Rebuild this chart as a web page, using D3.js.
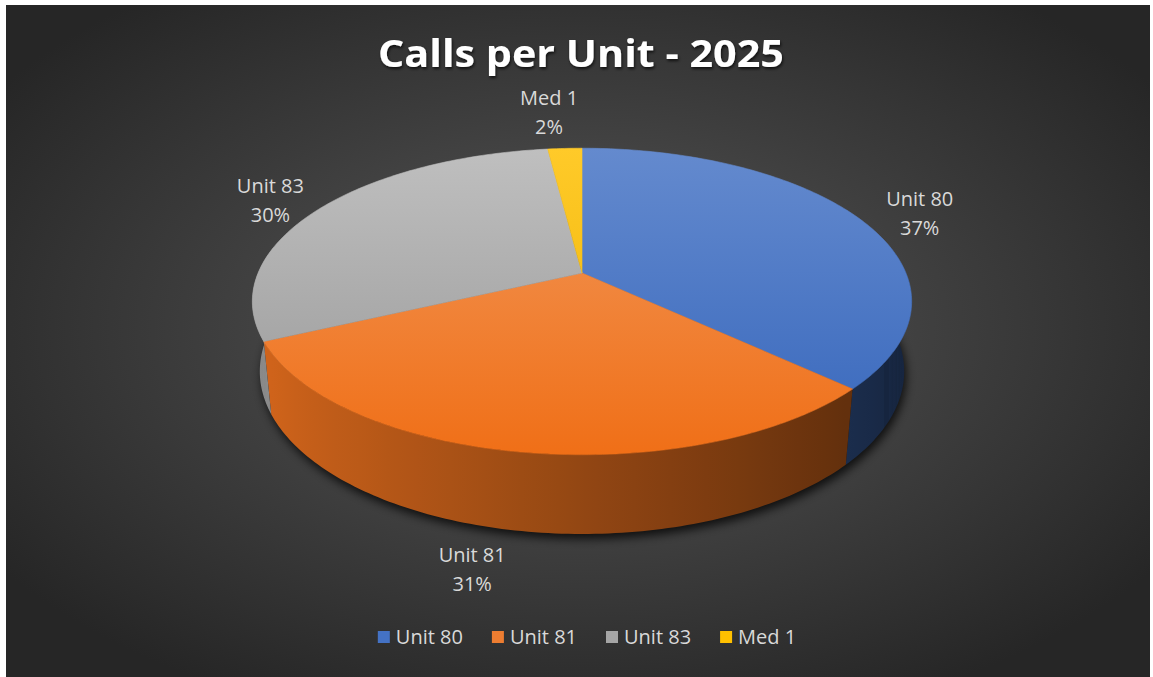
<!DOCTYPE html>
<html>
<head>
<meta charset="utf-8">
<script src="https://cdn.jsdelivr.net/npm/d3@7"></script>
<style>
  html, body { margin: 0; padding: 0; background: #fff; }
  svg { display: block; }
</style>
</head>
<body>
<svg width="1153" height="677"></svg>
<script>
// data
var categories = ["Unit 80", "Unit 81", "Unit 83", "Med 1"];
var values = [37, 31, 30, 2];
var colors = ["#4472C4", "#ED7D31", "#A5A5A5", "#FFC000"];
var title = "Calls per Unit - 2025";

// label nudges (px) to mimic Excel's best-fit placement
var labelNudge = [[10, 5], [-34, -10], [-4, 4], [-13, -16]];

var svg = d3.select("svg"),
    W = +svg.attr("width"),
    H = +svg.attr("height"),
    defs = svg.append("defs");

// perspective setup for the 3D pie
var cx = 582, cy = 273,
    fx = 1558, fy = 1585, D = 4.81,
    phi = Math.asin(0.449),
    thick = 0.239,
    sinP = Math.sin(phi), cosP = Math.cos(phi);

function proj(theta, rho, yw) {
    var x = rho * Math.sin(theta), z = rho * Math.cos(theta);
    var yc = yw * cosP + z * sinP;
    var depth = D + z * cosP - yw * sinP;
    return [cx + fx * x / depth, cy - fy * yc / depth];
}

// background
var bg = defs.append("radialGradient").attr("id", "bg")
    .attr("cx", "50%").attr("cy", "48%").attr("r", "62%");
bg.append("stop").attr("offset", "0%").attr("stop-color", "#585858");
bg.append("stop").attr("offset", "100%").attr("stop-color", "#262626");

svg.append("rect")
    .attr("x", 6).attr("y", 5)
    .attr("width", W - 9).attr("height", H - 5)
    .attr("fill", "url(#bg)");

var pie = d3.pie().sort(null).value(function(d) { return d; });
var arcs = pie(values);
var total = d3.sum(values);

function arcPoints(a0, a1, rho, yw) {
    var n = Math.max(2, Math.ceil(Math.abs(a1 - a0) / (Math.PI / 180)));
    return d3.range(n + 1).map(function(i) {
        return proj(a0 + (a1 - a0) * i / n, rho, yw);
    });
}

// shadow under the pie
var blur = defs.append("filter").attr("id", "blur")
    .attr("x", "-10%").attr("y", "-10%").attr("width", "120%").attr("height", "130%");
blur.append("feGaussianBlur").attr("stdDeviation", 5);

svg.append("path")
    .attr("d", d3.line()(arcPoints(0, 2 * Math.PI, 1.0, -thick)) + "Z")
    .attr("transform", "translate(2,5)")
    .attr("fill", "#000")
    .attr("opacity", 0.75)
    .attr("filter", "url(#blur)");

// side walls
var gWall = svg.append("g");
var vis0 = 80 * Math.PI / 180, vis1 = 280 * Math.PI / 180;

function shade(base, theta) {
    var k = 0.58 - 0.26 * Math.sin(theta);
    var c = d3.hsl(base);
    c.l = c.l * k;
    c.s = c.s * 0.92;
    return c.rgb();
}

arcs.forEach(function(a, i) {
    var a0 = Math.max(a.startAngle, vis0), a1 = Math.min(a.endAngle, vis1);
    if (a1 <= a0) return;
    var top = arcPoints(a0, a1, 1, 0),
        bot = arcPoints(a0, a1, 1, -thick).reverse();
    var xs = top.concat(bot).map(function(p) { return p[0]; });
    var xmin = d3.min(xs), xmax = d3.max(xs);
    var gid = "wall" + i;
    var lg = defs.append("linearGradient").attr("id", gid)
        .attr("gradientUnits", "userSpaceOnUse")
        .attr("x1", xmin).attr("x2", xmax).attr("y1", 0).attr("y2", 0);
    var samples = d3.range(21).map(function(j) {
        var t = a0 + (a1 - a0) * j / 20;
        return {x: proj(t, 1, -thick)[0], c: shade(colors[i], t)};
    }).sort(function(p, q) { return p.x - q.x; });
    samples.forEach(function(s) {
        var off = xmax > xmin ? (s.x - xmin) / (xmax - xmin) : 0;
        lg.append("stop").attr("offset", off).attr("stop-color", s.c);
    });
    gWall.append("path")
        .attr("d", d3.line()(top.concat(bot)) + "Z")
        .attr("fill", "url(#" + gid + ")");
});

// top faces
var yTop = proj(0, 1, 0)[1], yBot = proj(Math.PI, 1, 0)[1];
var gTop = svg.append("g");
arcs.forEach(function(a, i) {
    var gid = "top" + i;
    var c = d3.hsl(colors[i]);
    var light = d3.hsl(c.h, c.s, Math.min(1, c.l * 1.16)),
        dark = d3.hsl(c.h, Math.min(1, c.s * 1.05), c.l * 0.92);
    var lg = defs.append("linearGradient").attr("id", gid)
        .attr("gradientUnits", "userSpaceOnUse")
        .attr("x1", 0).attr("x2", 0).attr("y1", yTop).attr("y2", yBot);
    lg.append("stop").attr("offset", 0).attr("stop-color", light.rgb());
    lg.append("stop").attr("offset", 1).attr("stop-color", dark.rgb());
    var pts = [proj(0, 0, 0)].concat(arcPoints(a.startAngle, a.endAngle, 1, 0));
    gTop.append("path")
        .attr("d", d3.line()(pts) + "Z")
        .attr("fill", "url(#" + gid + ")")
        .attr("stroke", "url(#" + gid + ")")
        .attr("stroke-width", 0.6)
        .attr("stroke-linejoin", "round");
});

// data labels
var fmt = d3.format(".0%");
var gLab = svg.append("g")
    .attr("font-family", "'Open Sans', sans-serif")
    .attr("font-size", 20)
    .attr("fill", "#d9d9d9")
    .attr("text-anchor", "middle");

arcs.forEach(function(a, i) {
    var mid = (a.startAngle + a.endAngle) / 2;
    var front = Math.cos(mid) < 0;
    var p = proj(mid, 1.2, front ? -thick : 0);
    var x = p[0] + labelNudge[i][0], y = p[1] + labelNudge[i][1];
    var t = gLab.append("text").attr("x", x).attr("y", y - 7);
    t.append("tspan").attr("x", x).attr("dy", 0).text(categories[i]);
    t.append("tspan").attr("x", x).attr("dy", 29).text(fmt(a.value / total));
});

// title
var shadow = defs.append("filter").attr("id", "tshadow")
    .attr("x", "-10%").attr("y", "-30%").attr("width", "120%").attr("height", "160%");
shadow.append("feDropShadow").attr("dx", 1).attr("dy", 2)
    .attr("stdDeviation", 1.5).attr("flood-color", "#000").attr("flood-opacity", 0.7);

svg.append("text")
    .attr("x", 581).attr("y", 67)
    .attr("text-anchor", "middle")
    .attr("font-family", "'Open Sans', sans-serif")
    .attr("font-weight", 700)
    .attr("font-size", 38)
    .attr("textLength", 406)
    .attr("lengthAdjust", "spacingAndGlyphs")
    .attr("fill", "#fff")
    .attr("filter", "url(#tshadow)")
    .text(title);

// legend
var gLeg = svg.append("g")
    .attr("font-family", "'Open Sans', sans-serif")
    .attr("font-size", 20)
    .attr("fill", "#d9d9d9");

var items = gLeg.selectAll("g").data(categories).enter().append("g");
items.append("rect")
    .attr("y", 631).attr("width", 12).attr("height", 12)
    .attr("fill", function(d, i) { return colors[i]; });
items.append("text")
    .attr("x", 18).attr("y", 644)
    .text(function(d) { return d; });

var widths = [];
items.each(function() {
    widths.push(18 + d3.select(this).select("text").node().getComputedTextLength());
});
var gap = 29;
var totalW = d3.sum(widths) + gap * (widths.length - 1);
var x0 = 587 - totalW / 2;
items.attr("transform", function(d, i) {
    var x = x0 + d3.sum(widths.slice(0, i)) + gap * i;
    return "translate(" + x + ",0)";
});
</script>
</body>
</html>
